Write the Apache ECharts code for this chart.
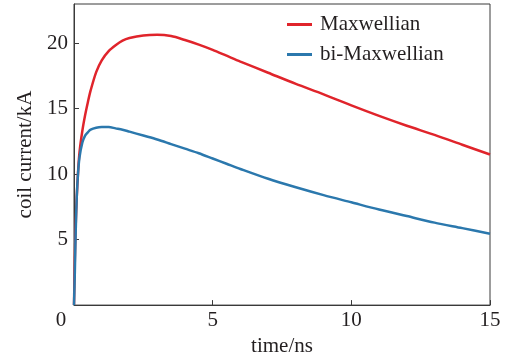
<!DOCTYPE html>
<html>
<head>
<meta charset="utf-8">
<script src="https://cdn.jsdelivr.net/npm/echarts@6/dist/echarts.min.js"></script>
<style>html,body{margin:0;padding:0;background:#fff}#c{width:509px;height:362px}</style>
</head>
<body>
<div id="c"></div>
<script>
const time = [0, 0.03, 0.06, 0.1, 0.15, 0.2, 0.3, 0.4, 0.5, 0.6, 0.8, 1.0, 1.25, 1.5, 1.75, 2.0, 2.5, 3.0, 3.5, 4.0, 4.5, 5, 5.5, 6, 7, 8, 9, 10, 11, 12, 13, 14, 15];
const maxwellian = [0, 3.5, 6.0, 8.3, 10.3, 11.7, 13.3, 14.5, 15.5, 16.4, 17.8, 18.7, 19.4, 19.85, 20.2, 20.4, 20.6, 20.65, 20.55, 20.25, 19.9, 19.5, 19.05, 18.6, 17.75, 16.9, 16.1, 15.25, 14.45, 13.7, 13.0, 12.25, 11.5];
const biMaxwellian = [0, 2.5, 5.5, 8.3, 10.2, 11.3, 12.4, 12.95, 13.2, 13.4, 13.55, 13.6, 13.6, 13.5, 13.4, 13.25, 12.95, 12.65, 12.3, 11.95, 11.6, 11.2, 10.8, 10.4, 9.65, 9.0, 8.4, 7.85, 7.3, 6.8, 6.3, 5.88, 5.45];
const seriesNames = ['Maxwellian', 'bi-Maxwellian'];
const xTicks = [0, 5, 10, 15];
const yTicks = [5, 10, 15, 20];

const FONT = "'Liberation Serif', 'Times New Roman', serif";
const TXT = '#231f20';
const FS = 21;
const chart = echarts.init(document.getElementById('c'), null, {renderer: 'canvas'});
const pairs = arr => time.map((t, i) => [t, arr[i]]);
chart.setOption({
  animation: false,
  grid: {left: 74, right: 19, top: 4, bottom: 56, show: true, borderColor: '#3a3a3a', borderWidth: 1, containLabel: false},
  legend: {
    orient: 'vertical', left: 287, top: 14, padding: 0, itemWidth: 25, itemHeight: 3, itemGap: 9, icon: 'rect',
    textStyle: {fontFamily: FONT, fontSize: FS, color: TXT, lineHeight: 21, padding: [0, 0, 0, 3]},
    data: seriesNames
  },
  xAxis: {
    type: 'value', min: 0, max: 15, interval: 5,
    name: 'time/ns', nameLocation: 'middle', nameGap: 30,
    nameTextStyle: {fontFamily: FONT, fontSize: FS, color: TXT},
    axisLine: {lineStyle: {color: '#3a3a3a', width: 1}},
    axisTick: {inside: true, length: 5, lineStyle: {color: '#3a3a3a'}},
    splitLine: {show: false},
    axisLabel: {
      margin: 5, fontFamily: FONT, fontSize: FS, color: TXT,
      formatter: v => xTicks.includes(v) ? (v === 0 ? '{o|0}' : String(v)) : '',
      rich: {o: {fontFamily: FONT, fontSize: FS, color: TXT, padding: [0, 26, 0, 0]}}
    }
  },
  yAxis: {
    type: 'value', min: 0, max: 23, interval: 5,
    name: 'coil current/kA', nameLocation: 'middle', nameGap: 38,
    nameTextStyle: {fontFamily: FONT, fontSize: FS, color: TXT},
    axisLine: {lineStyle: {color: '#3a3a3a', width: 1}},
    axisTick: {inside: true, length: 5, lineStyle: {color: '#3a3a3a'}},
    splitLine: {show: false},
    axisLabel: {
      margin: 6, fontFamily: FONT, fontSize: FS, color: TXT, showMaxLabel: false,
      formatter: v => yTicks.includes(v) ? String(v) : ''
    }
  },
  series: [
    {name: seriesNames[0], type: 'line', data: pairs(maxwellian), showSymbol: false, symbol: 'none', smooth: 0.3,
     color: '#e0242b', lineStyle: {width: 2.5, color: '#e0242b'}},
    {name: seriesNames[1], type: 'line', data: pairs(biMaxwellian), showSymbol: false, symbol: 'none', smooth: 0.3,
     color: '#2b78ad', lineStyle: {width: 2.5, color: '#2b78ad'}}
  ]
});
</script>
</body>
</html>
